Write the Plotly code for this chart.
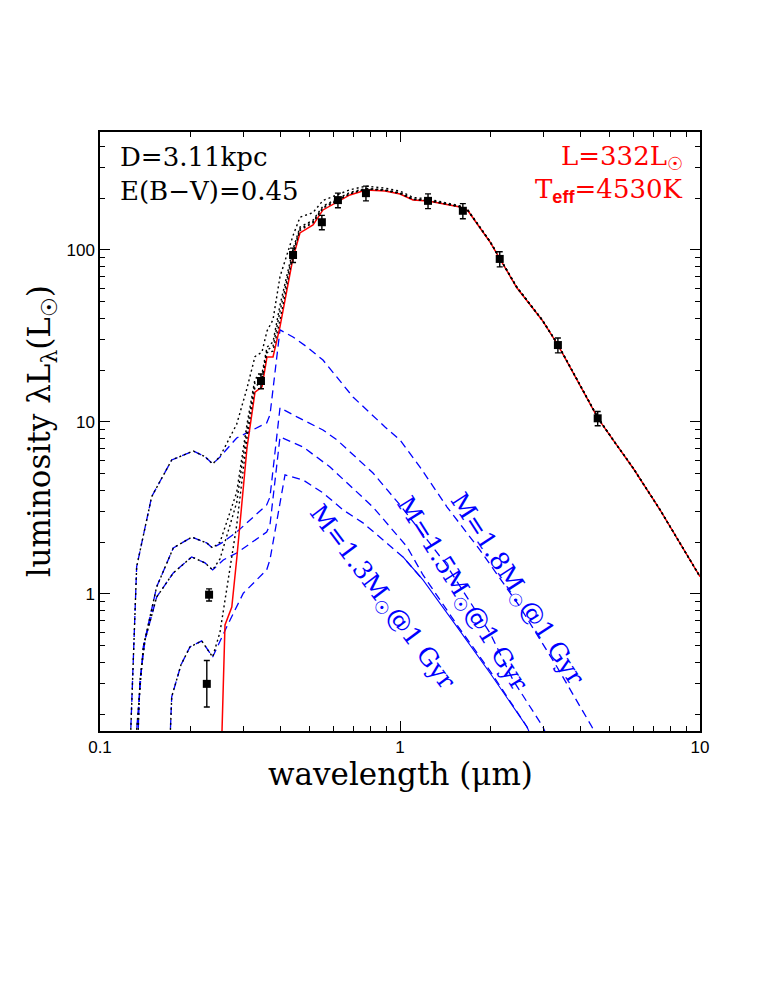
import math
import plotly.graph_objects as go

# ---- observed photometry ----
obs_wl = [0.231, 0.227, 0.344, 0.440, 0.549, 0.621, 0.770, 1.24, 1.62, 2.15, 3.36, 4.56]
obs_lum = [0.99, 0.30, 17.3, 93.5, 145, 195, 214, 193, 169, 88.7, 28.0, 10.5]
obs_err_hi = [0.08, 0.11, 1.7, 9, 14, 19, 21, 19, 17, 9, 2.8, 1.0]
obs_err_lo = [0.08, 0.08, 1.7, 9, 14, 19, 21, 19, 17, 9, 2.8, 1.0]

# ---- stellar photosphere (red) ----
star_wl = [0.2529, 0.2551, 0.261, 0.275, 0.286, 0.309, 0.3286, 0.3467, 0.3603, 0.3773, 0.398,
           0.4398, 0.464, 0.513, 0.5536, 0.6166, 0.681, 0.770, 0.891, 1.0, 1.105, 1.240, 1.585,
           1.686, 1.995, 2.455, 2.672, 2.974, 3.363, 3.981, 4.571, 5.129, 5.98, 7.36, 10.0]
star_lum = [0.05, 0.16, 0.66, 0.84, 1.64, 7.06, 14.9, 16.0, 23.9, 23.9, 35.7,
            89.8, 125.6, 139.8, 170.9, 190, 209, 223, 220, 211.7, 195.5, 192.9, 177.8,
            168.6, 111.3, 60.1, 49.9, 39.2, 28.0, 16.4, 10.5, 7.86, 5.40, 3.08, 1.26]

# ---- companion models (blue dashed) ----
m18_wl = [0.1249, 0.1265, 0.1291, 0.1325, 0.1487, 0.1734, 0.2046, 0.2239, 0.2374, 0.2512, 0.2855,
          0.3594, 0.3686, 0.3981, 0.4398, 0.4898, 0.5537, 0.6971, 0.8913, 1.0, 1.166, 1.435,
          1.848, 2.512, 3.337, 4.365, 4.642]
m18_lum = [0.083, 0.16, 0.49, 1.44, 3.68, 6.01, 6.78, 6.28, 5.70, 6.26, 8.07,
           9.87, 10.98, 34.3, 31.2, 27.3, 22.9, 13.97, 9.35, 7.86, 5.47, 3.20,
           1.80, 0.84, 0.376, 0.1685, 0.132]

m15_wl = [0.1313, 0.1325, 0.1394, 0.1545, 0.1755, 0.2021, 0.2268, 0.2374, 0.2545, 0.2855, 0.3594,
          0.3686, 0.3981, 0.4535, 0.5537, 0.6166, 0.8128, 0.9261, 1.0, 1.413, 1.995, 2.38, 2.996, 3.186]
m15_lum = [0.083, 0.162, 0.492, 1.10, 1.85, 2.14, 1.98, 1.85, 1.98, 2.29, 3.29,
           3.66, 12.1, 10.7, 8.98, 7.86, 5.05, 3.87, 3.29, 1.515, 0.593, 0.316, 0.1685, 0.132]

m14_wl = [0.1323, 0.1342, 0.1359, 0.1413, 0.1545, 0.1755, 0.2021, 0.2239, 0.2374, 0.2576, 0.2855,
          0.3594, 0.3686, 0.3981, 0.4749, 0.5845, 0.8128, 1.055, 1.193, 1.549, 1.995, 2.651, 2.818]
m14_lum = [0.083, 0.162, 0.316, 0.540, 0.96, 1.324, 1.64, 1.515, 1.38, 1.576, 1.73,
           2.29, 2.52, 8.18, 7.16, 5.47, 3.20, 1.88, 1.289, 0.660, 0.357, 0.1685, 0.132]

m13_wl = [0.1691, 0.1711, 0.1734, 0.1862, 0.1995, 0.2183, 0.2374, 0.2644, 0.3004, 0.3594, 0.3686,
          0.4137, 0.4749, 0.5537, 0.6457, 0.7527, 0.8777, 1.023, 1.193, 1.549, 1.995, 2.651, 2.818]
m13_lum = [0.083, 0.16, 0.252, 0.387, 0.492, 0.533, 0.430, 0.643, 1.01, 1.38, 1.58,
           4.92, 4.60, 3.87, 3.08, 2.59, 2.06, 1.64, 1.206, 0.643, 0.347, 0.1685, 0.132]
m13_solid_from = 17  # index from which the 1.3 Msun model is drawn as a (dense) solid line

# ---- star + companion totals (black dotted) ----
tot_wl_common = [0.2512, 0.2855, 0.309, 0.3286, 0.3467, 0.3603, 0.3773, 0.3981, 0.4398, 0.4642,
                 0.5129, 0.5537, 0.6166, 0.6813, 0.7700, 0.8913, 1.0, 1.105, 1.240, 1.585, 1.686,
                 1.995, 2.455, 2.672, 2.974, 3.363, 3.981, 4.571, 5.129, 5.98, 7.36, 10.0]
tot18_wl = [0.1249, 0.1265, 0.1291, 0.1325, 0.1487, 0.1734, 0.2046, 0.2239, 0.2374] + tot_wl_common
tot18_lum = [0.083, 0.16, 0.49, 1.44, 3.68, 6.01, 6.78, 6.28, 5.70,
             6.3, 9.7, 15.7, 24.0, 25.5, 33.8, 39.3, 70, 121, 155, 165, 194, 208, 224, 235, 229, 220,
             202, 198, 180.5, 170.5, 112.5, 60.8, 50.3, 39.5, 28.2, 16.5, 10.6, 7.9, 5.42, 3.09, 1.26]
tot15_wl = [0.1313, 0.1325, 0.1394, 0.1545, 0.1755, 0.2021, 0.2268, 0.2374] + tot_wl_common
tot15_lum = [0.083, 0.162, 0.492, 1.10, 1.85, 2.14, 1.98, 1.85,
             2.0, 3.9, 9.7, 17.8, 19.1, 27.2, 29.2, 47.8, 100.8, 136, 149, 180, 198, 216, 228, 224, 215,
             198, 195, 179, 169.5, 112, 60.5, 50.1, 39.3, 28.1, 16.45, 10.55, 7.88, 5.41, 3.085, 1.26]
tot14_wl = [0.1323, 0.1342, 0.1359, 0.1413, 0.1545, 0.1755, 0.2021, 0.2239, 0.2374] + tot_wl_common
tot14_lum = [0.083, 0.162, 0.316, 0.540, 0.96, 1.324, 1.64, 1.515, 1.38,
             1.6, 3.4, 9.0, 17.0, 18.2, 26.2, 27.5, 43.9, 97.4, 133, 146, 177, 195, 213, 227, 223, 214,
             197, 194.3, 178.6, 169.2, 111.7, 60.3, 50.0, 39.25, 28.05, 16.42, 10.52, 7.87, 5.40, 3.08, 1.26]
tot13_wl = [0.1691, 0.1711, 0.1734, 0.1862, 0.1995, 0.2183, 0.2374] + tot_wl_common
tot13_lum = [0.083, 0.16, 0.252, 0.387, 0.492, 0.533, 0.430,
             0.6, 2.5, 8.1, 16.0, 17.3, 25.3, 25.8, 39.1, 94.6, 130, 144, 175, 193, 212, 226, 222, 213,
             196.8, 194, 178.4, 169.0, 111.6, 60.2, 50.0, 39.2, 28.0, 16.4, 10.5, 7.86, 5.40, 3.08, 1.26]

# model label texts and placement (wavelength, luminosity, angle)
model_labels = ["M=1.8M<sub>\u2609</sub>@1 Gyr", "M=1.5M<sub>\u2609</sub>@1 Gyr", "M=1.3M<sub>\u2609</sub>@1 Gyr"]
label_wl = [2.45, 1.60, 0.87]
label_lum = [1.06, 1.0, 0.95]
label_angle = [57, 58, 53]

BLUE = "#0000ff"
RED = "#ff0000"
SERIF = "DejaVu Serif"
SANS = "Liberation Sans"

fig = go.Figure()

dash_blue = dict(color=BLUE, width=1.3, dash="8px,5px")
fig.add_trace(go.Scatter(x=m18_wl, y=m18_lum, mode="lines", line=dash_blue, hoverinfo="skip"))
fig.add_trace(go.Scatter(x=m15_wl, y=m15_lum, mode="lines", line=dash_blue, hoverinfo="skip"))
fig.add_trace(go.Scatter(x=m14_wl, y=m14_lum, mode="lines", line=dash_blue, hoverinfo="skip"))
fig.add_trace(go.Scatter(x=m13_wl[:m13_solid_from + 2], y=m13_lum[:m13_solid_from + 2], mode="lines",
                         line=dash_blue, hoverinfo="skip"))
fig.add_trace(go.Scatter(x=m13_wl[m13_solid_from:], y=m13_lum[m13_solid_from:], mode="lines",
                         line=dict(color=BLUE, width=1.1), hoverinfo="skip"))

fig.add_trace(go.Scatter(x=star_wl, y=star_lum, mode="lines",
                         line=dict(color=RED, width=1.5), hoverinfo="skip"))

for wl, lum in [(tot18_wl, tot18_lum), (tot15_wl, tot15_lum), (tot14_wl, tot14_lum), (tot13_wl, tot13_lum)]:
    fig.add_trace(go.Scatter(x=wl, y=lum, mode="lines",
                             line=dict(color="black", width=1.4, dash="2px,3px"),
                             hoverinfo="skip"))

fig.add_trace(go.Scatter(
    x=obs_wl, y=obs_lum, mode="markers",
    marker=dict(symbol="square", size=8, color="black"),
    error_y=dict(type="data", array=obs_err_hi, arrayminus=obs_err_lo, symmetric=False,
                 color="black", thickness=1.4, width=3),
    hoverinfo="skip"))

axis_common = dict(
    type="log", showgrid=False, zeroline=False, showline=True, linecolor="black", linewidth=1.5,
    mirror="ticks", ticks="inside", ticklen=10, tickwidth=1.2, tickcolor="black", automargin=False,
    tickfont=dict(family=SANS, size=17, color="black"),
    minor=dict(ticks="inside", ticklen=5, tickwidth=1.1, tickcolor="black", dtick="D1", showgrid=False),
)

fig.update_xaxes(**axis_common, range=[-1, 1],
                 tickvals=[0.1, 1, 10], ticktext=["0.1", "1", "10"])
fig.update_yaxes(**axis_common, range=[-0.797, 2.686],
                 tickvals=[1, 10, 100], ticktext=["1", "10", "100"])

ann = []
# axis titles
ann.append(dict(x=0.5, y=-0.071, xref="paper", yref="paper", xanchor="center", yanchor="middle",
                text="wavelength (\u03bcm)", showarrow=False,
                font=dict(family=SERIF, size=31, color="black")))
ann.append(dict(x=-0.097, y=0.50, xref="paper", yref="paper", xanchor="center", yanchor="middle",
                text="luminosity \u03bbL<sub>\u03bb</sub>(L<sub>\u2609</sub>)", showarrow=False, textangle=-90,
                font=dict(family=SERIF, size=31, color="black")))
# corner texts
ann.append(dict(x=0.03, y=0.958, xref="paper", yref="paper", xanchor="left", yanchor="middle",
                text="D=3.11kpc", showarrow=False, font=dict(family=SERIF, size=26, color="black")))
ann.append(dict(x=0.03, y=0.902, xref="paper", yref="paper", xanchor="left", yanchor="middle",
                text="E(B\u2212V)=0.45", showarrow=False, font=dict(family=SERIF, size=26, color="black")))
ann.append(dict(x=0.975, y=0.958, xref="paper", yref="paper", xanchor="right", yanchor="middle",
                text="L=332L<sub>\u2609</sub>", showarrow=False, font=dict(family=SERIF, size=26, color=RED)))
ann.append(dict(x=0.975, y=0.902, xref="paper", yref="paper", xanchor="right", yanchor="middle",
                text="T<sub><b><span style='font-family:Liberation Sans'>eff</span></b></sub>=4530K",
                showarrow=False, font=dict(family=SERIF, size=26, color=RED)))

for txt, xv, yv, ang in zip(model_labels, label_wl, label_lum, label_angle):
    ann.append(dict(x=math.log10(xv), y=math.log10(yv), xref="x", yref="y", text=txt,
                    showarrow=False, textangle=ang,
                    font=dict(family=SERIF, size=25, color=BLUE), xanchor="center", yanchor="middle"))

fig.update_layout(
    width=763, height=987, showlegend=False,
    paper_bgcolor="white", plot_bgcolor="white",
    margin=dict(l=92, r=71, t=124, b=264),
    annotations=ann,
)

fig.write_html("out.html")
